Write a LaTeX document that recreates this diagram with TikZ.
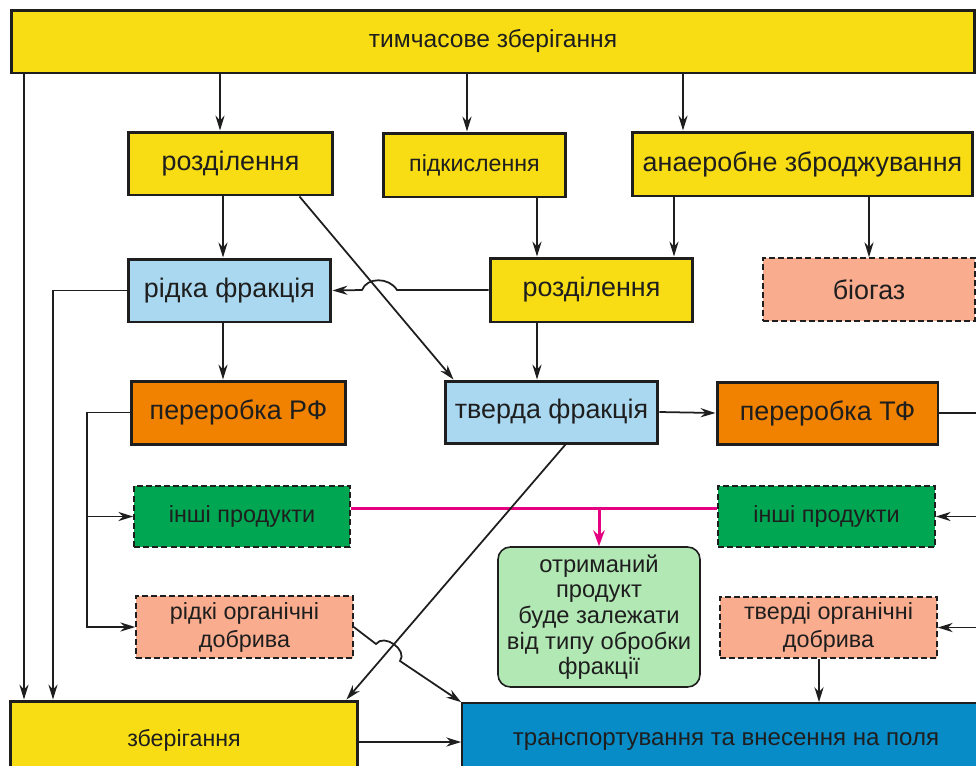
\documentclass[tikz,border=0pt]{standalone}
\usepackage{fontspec}
\setmainfont{Liberation Sans}
\usetikzlibrary{arrows.meta,calc}

\definecolor{boxyellow}{RGB}{248,221,20}
\definecolor{fracblue}{RGB}{170,216,240}
\definecolor{procorange}{RGB}{240,130,0}
\definecolor{prodgreen}{RGB}{0,166,82}
\definecolor{fertsalmon}{RGB}{250,172,142}
\definecolor{notegreen}{RGB}{178,232,180}
\definecolor{fieldblue}{RGB}{8,140,200}
\definecolor{linkmagenta}{RGB}{228,0,128}
\definecolor{inkgray}{RGB}{30,30,30}

\tikzset{
  box/.style={draw=inkgray, line width=1.7pt, text=inkgray, inner sep=0pt,
    font=\fontsize{15.3}{17}\selectfont},
  dashbox/.style={draw=inkgray, line width=0.9pt, dash pattern=on 3.4pt off 1.8pt,
    text=inkgray, inner sep=0pt, align=center,
    font=\fontsize{13.3}{16}\selectfont},
  arr/.style={-{Stealth[length=8.5pt,width=5.2pt]}, line width=1pt, draw=inkgray},
  line/.style={line width=1pt, draw=inkgray},
  magline/.style={line width=1.7pt, draw=linkmagenta},
  magarr/.style={-{Stealth[length=9pt,width=6.5pt]}, line width=1.7pt, draw=linkmagenta},
}

\begin{document}
\begin{tikzpicture}[x=0.02cm, y=-0.02cm]
  \useasboundingbox (0,0) rectangle (976,765);
  \clip (0,0) rectangle (976,765);

  % boxes, top row
  \node[box, fill=boxyellow, minimum width=19.28cm, minimum height=1.26cm,
    font=\fontsize{14}{16}\selectfont] (top) at (493,41.5) {тимчасове зберігання};
  \node[box, fill=boxyellow, minimum width=4.1cm, minimum height=1.26cm] (rozd1) at (230.5,163.5) {розділення};
  \node[box, fill=boxyellow, minimum width=3.66cm, minimum height=1.28cm,
    font=\fontsize{13.2}{15}\selectfont] (pidk) at (474.5,165) {підкислення};
  \node[box, fill=boxyellow, minimum width=6.82cm, minimum height=1.28cm] (anaer) at (802.5,164) {анаеробне зброджування};

  % separation stage
  \node[box, fill=fracblue, minimum width=4.06cm, minimum height=1.26cm] (ridka) at (229.5,290.5) {рідка фракція};
  \node[box, fill=boxyellow, minimum width=4.06cm, minimum height=1.28cm] (rozd2) at (591.5,290) {розділення};
  \node[dashbox, fill=fertsalmon, minimum width=4.24cm, minimum height=1.26cm,
    font=\fontsize{15.3}{17}\selectfont] (biogas) at (869,289.5) {біогаз};

  % processing
  \node[box, fill=procorange, minimum width=4.3cm, minimum height=1.26cm] (prf) at (238.5,412.5) {переробка РФ};
  \node[box, fill=fracblue, minimum width=4.26cm, minimum height=1.24cm] (tverda) at (551.5,412) {тверда фракція};
  \node[box, fill=procorange, minimum width=4.42cm, minimum height=1.24cm] (ptf) at (827.5,413) {переробка ТФ};

  % products
  \node[dashbox, fill=prodgreen, minimum width=4.32cm, minimum height=1.22cm] (inshiL) at (242,516.5) {інші продукти};
  \node[dashbox, fill=prodgreen, minimum width=4.34cm, minimum height=1.22cm] (inshiR) at (826.5,516.5) {інші продукти};
  \node[draw=inkgray, line width=0.9pt, rounded corners=7pt, fill=notegreen, text=inkgray,
    minimum width=4.04cm, minimum height=2.8cm, inner sep=0pt, align=center,
    font=\fontsize{13.5}{14.6}\selectfont] (note) at (599,617)
    {отриманий\\продукт\\буде залежати\\від типу обробки\\фракції};
  \node[dashbox, fill=fertsalmon, minimum width=4.34cm, minimum height=1.24cm] (ridki) at (244.5,627) {рідкі органічні\\добрива};
  \node[dashbox, fill=fertsalmon, minimum width=4.34cm, minimum height=1.22cm] (tverdi) at (828.5,627.5) {тверді органічні\\добрива};

  % bottom row
  \node[box, fill=boxyellow, minimum width=6.96cm, minimum height=1.56cm,
    font=\fontsize{13.2}{15}\selectfont] (zber) at (184,740) {зберігання};
  \node[box, fill=fieldblue, line width=1pt, minimum width=10.56cm, minimum height=1.56cm,
    font=\fontsize{13.7}{15}\selectfont] (transport) at (726,742) {транспортування та внесення на поля};

  % x positions of the vertical links
  \coordinate (x24) at (24,0);
  \coordinate (x53) at (53,0);
  \coordinate (x87) at (87,0);
  \coordinate (x220) at (220,0);
  \coordinate (x223) at (223,0);
  \coordinate (x467) at (467,0);
  \coordinate (x537) at (537,0);
  \coordinate (x674) at (674,0);
  \coordinate (x683) at (683,0);
  \coordinate (x819) at (819,0);
  \coordinate (x869) at (869,0);
  \coordinate (rbus) at (992,0);
  \coordinate (mg) at (0,508);

  % links from the top box
  \draw[arr] (top.south -| x24) -- (zber.north -| x24);
  \draw[arr] (top.south -| x220) -- (rozd1.north -| x220);
  \draw[arr] (top.south -| x467) -- (pidk.north -| x467);
  \draw[arr] (top.south -| x683) -- (anaer.north -| x683);

  \draw[arr] (rozd1.south -| x223) -- (ridka.north -| x223);
  \draw[arr] (pidk.south -| x537) -- (rozd2.north -| x537);
  \draw[arr] (anaer.south -| x674) -- (rozd2.north -| x674);
  \draw[arr] (anaer.south -| x869) -- (biogas.north -| x869);
  \draw[arr] ($(rozd1.south east)+(-35,0)$) -- ($(tverda.north west)+(10,0)$);

  % separation to liquid fraction, jumping the diagonal
  \draw[arr] (rozd2.west) -- (397,290) .. controls (389,277) and (367,277) .. (362,290) -- (ridka.east);
  \draw[arr] (ridka.west) -| (zber.north -| x53);

  \draw[arr] (ridka.south -| x223) -- (prf.north -| x223);
  \draw[arr] (rozd2.south -| x537) -- (tverda.north -| x537);
  \draw[arr] (tverda.east) -- (ptf.west);

  % liquid processing branch
  \draw[arr] (prf.west) -| (ridki.west -| x87) -- (ridki.west);
  \draw[arr] (inshiL.west -| x87) -- (inshiL.west);

  % solid processing branch (goes round the right edge)
  \draw[line] (ptf.east) -- (ptf.east -| rbus) -- (tverdi.east -| rbus);
  \draw[arr] (inshiR.east -| rbus) -- (inshiR.east);
  \draw[arr] (tverdi.east -| rbus) -- (tverdi.east);

  % other products to the note
  \draw[magline] (inshiL.east |- mg) -- (inshiR.west |- mg);
  \draw[magarr] (note.north |- mg) -- (note.north);

  % to storage and to the fields
  \draw[arr] ($(tverda.south)+(14,0)$) -- ($(zber.north east)+(-13,0)$);
  \draw[arr] (ridki.east) -- (376,644) .. controls (384,633) and (408,650) .. (400,661) -- (transport.north west);
  \draw[arr] (tverdi.south -| x819) -- (transport.north -| x819);
  \draw[arr] (zber.east |- transport.west) -- (transport.west);
\end{tikzpicture}
\end{document}
